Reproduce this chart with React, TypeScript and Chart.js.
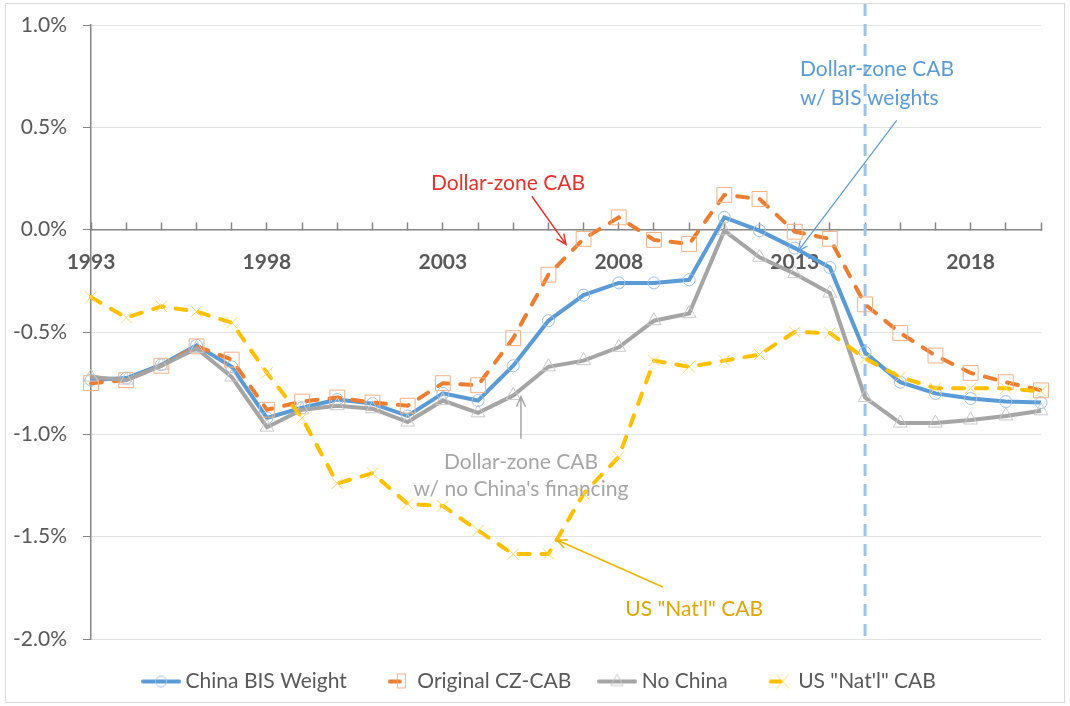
import React, { useEffect, useRef } from "react";
import { Chart, registerables } from "chart.js";

Chart.register(...registerables);

// ---------- DATA ----------
const years = [
  "1993", "1994", "1995", "1996", "1997", "1998", "1999", "2000", "2001", "2002",
  "2003", "2004", "2005", "2006", "2007", "2008", "2009", "2010", "2011", "2012",
  "2013", "2014", "2015", "2016", "2017", "2018", "2019", "2020",
];
const shownYearLabels = ["1993", "1998", "2003", "2008", "2013", "2018"];

const chinaBISWeight = [
  -0.735, -0.725, -0.66, -0.565, -0.67, -0.92, -0.87, -0.83, -0.85, -0.91,
  -0.80, -0.835, -0.665, -0.445, -0.32, -0.26, -0.26, -0.245, 0.06, -0.005,
  -0.09, -0.185, -0.60, -0.745, -0.80, -0.825, -0.84, -0.845,
];
const originalCZCAB = [
  -0.75, -0.735, -0.665, -0.57, -0.635, -0.88, -0.84, -0.82, -0.845, -0.86,
  -0.75, -0.76, -0.53, -0.22, -0.045, 0.06, -0.05, -0.07, 0.17, 0.15,
  -0.01, -0.045, -0.365, -0.505, -0.615, -0.70, -0.745, -0.785,
];
const noChina = [
  -0.72, -0.735, -0.665, -0.58, -0.72, -0.965, -0.88, -0.86, -0.875, -0.94,
  -0.835, -0.895, -0.81, -0.67, -0.64, -0.575, -0.445, -0.41, -0.005, -0.135,
  -0.215, -0.31, -0.82, -0.945, -0.945, -0.93, -0.91, -0.885,
];
const usNatlCAB = [
  -0.33, -0.43, -0.375, -0.40, -0.455, -0.70, -0.92, -1.24, -1.19, -1.34,
  -1.35, -1.47, -1.585, -1.585, -1.29, -1.11, -0.64, -0.67, -0.64, -0.61,
  -0.50, -0.505, -0.63, -0.72, -0.775, -0.775, -0.775, -0.79,
];

const seriesNames = ["China BIS Weight", "Original CZ-CAB", "No China", 'US "Nat\'l" CAB'];
const yMin = -2.0;
const yMax = 1.0;
const yStep = 0.5;
const dividerYear = "2015";

// Annotations in data space: x = category index, y = value (%)
const annotationTexts = [
  { text: "Dollar-zone CAB", x: 11.85, y: 0.227, align: "center", color: "#E5322D" },
  { text: "Dollar-zone CAB", x: 20.15, y: 0.784, align: "left", color: "#5B9BD5" },
  { text: "w/ BIS weights", x: 20.15, y: 0.643, align: "left", color: "#5B9BD5" },
  { text: "Dollar-zone CAB", x: 12.22, y: -1.134, align: "center", color: "#A6A6A6" },
  { text: "w/ no China's financing", x: 12.22, y: -1.266, align: "center", color: "#A6A6A6" },
  { text: 'US "Nat\'l" CAB', x: 17.14, y: -1.853, align: "center", color: "#DDA600" },
];
const annotationArrows = [
  { from: [12.53, 0.163], to: [13.5, -0.072], color: "#E5322D", width: 1.5 },
  { from: [22.9, 0.534], to: [20.09, -0.106], color: "#5B9BD5", width: 1.2 },
  { from: [12.22, -1.021], to: [12.22, -0.816], color: "#A6A6A6", width: 1.5 },
  { from: [16.25, -1.746], to: [13.24, -1.516], color: "#F0B400", width: 1.5 },
];

const FONT = "Lato, 'Open Sans', sans-serif";
const TEXT_COLOR = "#595959";

// ---------- helpers ----------
function makeLegendImage(kind: number): HTMLCanvasElement {
  const c = document.createElement("canvas");
  c.width = 40;
  c.height = 22;
  const ctx = c.getContext("2d")!;
  const cy = 11;
  ctx.lineCap = "round";
  if (kind === 0) {
    ctx.strokeStyle = "#5B9BD5";
    ctx.lineWidth = 4;
    ctx.beginPath(); ctx.moveTo(2, cy); ctx.lineTo(38, cy); ctx.stroke();
    ctx.strokeStyle = "#9DC3E6"; ctx.lineWidth = 1;
    ctx.beginPath(); ctx.arc(20, cy, 5.5, 0, Math.PI * 2); ctx.stroke();
  } else if (kind === 1) {
    ctx.strokeStyle = "#ED7D31"; ctx.lineWidth = 4;
    ctx.beginPath(); ctx.moveTo(17, cy); ctx.lineTo(27, cy); ctx.stroke();
    ctx.strokeStyle = "#F4B183"; ctx.lineWidth = 1;
    ctx.strokeRect(24.5, cy - 7.5, 8, 14);
  } else if (kind === 2) {
    ctx.strokeStyle = "#A5A5A5"; ctx.lineWidth = 4;
    ctx.beginPath(); ctx.moveTo(2, cy); ctx.lineTo(38, cy); ctx.stroke();
    ctx.strokeStyle = "#C9C9C9"; ctx.lineWidth = 1;
    ctx.beginPath(); ctx.moveTo(20, cy - 7); ctx.lineTo(26, cy + 4); ctx.lineTo(14, cy + 4); ctx.closePath(); ctx.stroke();
  } else {
    ctx.strokeStyle = "#FFC000"; ctx.lineWidth = 4;
    ctx.beginPath(); ctx.moveTo(17, cy); ctx.lineTo(27, cy); ctx.stroke();
    ctx.strokeStyle = "#FFD966"; ctx.lineWidth = 1;
    ctx.beginPath();
    ctx.moveTo(23, cy - 7); ctx.lineTo(35, cy + 7);
    ctx.moveTo(35, cy - 7); ctx.lineTo(23, cy + 7);
    ctx.stroke();
  }
  return c;
}

const framePlugin = {
  id: "frame",
  beforeDraw(chart: any) {
    const ctx = chart.ctx;
    ctx.save();
    ctx.fillStyle = "#ffffff";
    ctx.fillRect(0, 0, chart.width, chart.height);
    ctx.strokeStyle = "#D9D9D9";
    ctx.lineWidth = 1;
    ctx.strokeRect(5.5, 3.5, chart.width - 11, chart.height - 7);
    ctx.restore();
  },
};

// move the legend block to its place under the plot
const legendShiftPlugin = {
  id: "legendShift",
  afterLayout(chart: any) {
    const lg = chart.legend;
    if (!lg) return;
    const dx = 21;
    lg.left += dx;
    lg.right += dx;
  },
};

const dividerPlugin = {
  id: "divider",
  beforeDatasetsDraw(chart: any) {
    const { ctx, scales, chartArea } = chart;
    const x = scales.x.getPixelForValue(years.indexOf(dividerYear));
    ctx.save();
    ctx.strokeStyle = "#9DC3E6";
    ctx.lineWidth = 3;
    ctx.setLineDash([12, 8]);
    ctx.beginPath();
    ctx.moveTo(x, 4);
    ctx.lineTo(x, chartArea.bottom + 2);
    ctx.stroke();
    ctx.restore();
  },
};

const annotationPlugin = {
  id: "notes",
  afterDatasetsDraw(chart: any) {
    const { ctx, scales } = chart;
    const px = (v: number) => scales.x.getPixelForValue(v);
    const py = (v: number) => scales.y.getPixelForValue(v);
    ctx.save();
    ctx.font = `21px ${FONT}`;
    ctx.textBaseline = "middle";
    for (const t of annotationTexts) {
      ctx.fillStyle = t.color;
      ctx.textAlign = t.align as CanvasTextAlign;
      ctx.fillText(t.text, px(t.x), py(t.y));
    }
    for (const a of annotationArrows) {
      const x1 = px(a.from[0]), y1 = py(a.from[1]);
      const x2 = px(a.to[0]), y2 = py(a.to[1]);
      ctx.strokeStyle = a.color;
      ctx.lineWidth = a.width;
      ctx.beginPath();
      ctx.moveTo(x1, y1);
      ctx.lineTo(x2, y2);
      const ang = Math.atan2(y2 - y1, x2 - x1);
      const hl = 11, ha = 0.42;
      ctx.moveTo(x2 - hl * Math.cos(ang - ha), y2 - hl * Math.sin(ang - ha));
      ctx.lineTo(x2, y2);
      ctx.lineTo(x2 - hl * Math.cos(ang + ha), y2 - hl * Math.sin(ang + ha));
      ctx.stroke();
    }
    ctx.restore();
  },
};

export default function App() {
  const ref = useRef<HTMLCanvasElement | null>(null);

  useEffect(() => {
    if (!ref.current) return;
    const legendImages = [0, 1, 2, 3].map(makeLegendImage);
    const chart = new Chart(ref.current, {
      type: "line",
      data: {
        labels: years,
        datasets: [
          {
            label: seriesNames[0],
            data: chinaBISWeight,
            borderColor: "#5B9BD5",
            borderWidth: 4,
            pointStyle: "circle",
            pointRadius: 6,
            pointBorderColor: "#9DC3E6",
            pointBorderWidth: 1,
            pointBackgroundColor: "rgba(255,255,255,0)",
            tension: 0,
            order: 3,
          },
          {
            label: seriesNames[1],
            data: originalCZCAB,
            borderColor: "#ED7D31",
            borderWidth: 4,
            borderDash: [11, 12],
            borderCapStyle: "round",
            pointStyle: "rect",
            pointRadius: 10.5,
            pointBorderColor: "#F4B183",
            pointBorderWidth: 1,
            pointBackgroundColor: "rgba(255,255,255,0)",
            tension: 0,
            order: 2,
          },
          {
            label: seriesNames[2],
            data: noChina,
            borderColor: "#A5A5A5",
            borderWidth: 4,
            pointStyle: "triangle",
            pointRadius: 8,
            pointBorderColor: "#C9C9C9",
            pointBorderWidth: 1,
            pointBackgroundColor: "rgba(255,255,255,0)",
            tension: 0,
            order: 1,
          },
          {
            label: seriesNames[3],
            data: usNatlCAB,
            borderColor: "#FFC000",
            borderWidth: 4,
            borderDash: [11, 12],
            borderCapStyle: "round",
            pointStyle: "crossRot",
            pointRadius: 8,
            pointBorderColor: "#FFD966",
            pointBorderWidth: 1,
            tension: 0,
            order: 0,
          },
        ],
      },
      options: {
        responsive: false,
        animation: false,
        layout: { padding: { left: 0, right: 29, top: 25, bottom: 4 } },
        scales: {
          x: {
            type: "category",
            position: { y: 0 },
            offset: false,
            grid: {
              display: true,
              drawOnChartArea: false,
              drawTicks: true,
              tickLength: -8,
              tickColor: "#868686",
              tickWidth: 1.5,
            },
            border: { display: true, color: "#868686", width: 1.5 },
            ticks: {
              autoSkip: false,
              maxRotation: 0,
              padding: 28,
              color: TEXT_COLOR,
              font: { family: FONT, size: 21, weight: "bold" },
              callback: (_v: any, i: number) =>
                shownYearLabels.includes(years[i]) ? years[i] : "",
            },
            afterFit: (s: any) => {
              s.height = 0;
            },
          },
          y: {
            min: yMin,
            max: yMax,
            grid: {
              color: "#E3E3E3",
              lineWidth: 1,
              tickLength: 8,
              tickColor: "#868686",
            },
            border: { display: true, color: "#868686", width: 1.5 },
            ticks: {
              stepSize: yStep,
              padding: 16,
              color: TEXT_COLOR,
              font: { family: FONT, size: 21, lineHeight: 0.4 },
              callback: (v: any) => Number(v).toFixed(1) + "%",
            },
            afterFit: (s: any) => {
              s.width = 91;
            },
          },
        },
        plugins: {
          legend: {
            position: "bottom",
            labels: {
              usePointStyle: true,
              pointStyleWidth: 28,
              boxHeight: 21,
              padding: 32,
              color: TEXT_COLOR,
              font: { family: FONT, size: 21 },
              sort: (a: any, b: any) => a.datasetIndex - b.datasetIndex,
              generateLabels: (ch: any) =>
                ch.data.datasets.map((ds: any, i: number) => ({
                  text: ds.label,
                  datasetIndex: i,
                  pointStyle: legendImages[i],
                  fillStyle: "rgba(0,0,0,0)",
                  strokeStyle: "rgba(0,0,0,0)",
                  lineWidth: 0,
                  hidden: false,
                  fontColor: TEXT_COLOR,
                })),
            },
          },
          tooltip: { enabled: false },
          title: { display: false },
        },
      },
      plugins: [framePlugin, legendShiftPlugin, dividerPlugin, annotationPlugin],
    });
    return () => chart.destroy();
  }, []);

  return (
    <div style={{ position: "fixed", left: 0, top: 0, width: 1070, height: 706, background: "#fff" }}>
      <canvas ref={ref} width={1070} height={706} style={{ display: "block" }} />
    </div>
  );
}
